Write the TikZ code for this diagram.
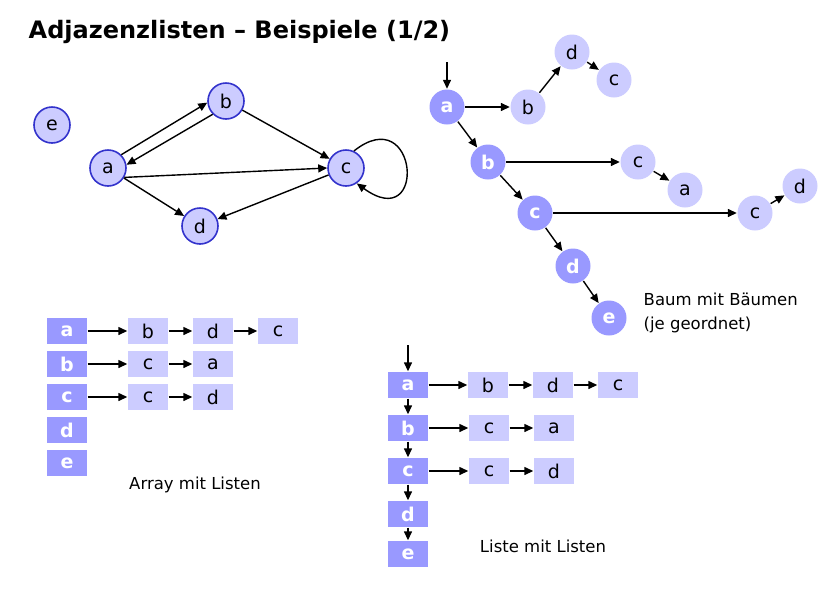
\documentclass[tikz,border=0pt]{standalone}
\usepackage{fontspec}
\setmainfont{DejaVu Sans}
\usepackage{xcolor}
\usetikzlibrary{arrows.meta, positioning}

\definecolor{lila}{HTML}{9999FF}
\definecolor{hell}{HTML}{CCCCFF}
\definecolor{rand}{HTML}{3333CC}

\begin{document}
\begin{tikzpicture}[x=1pt, y=-1pt, >={Triangle[length=9pt, width=8pt]}, line width=1.4pt,
    knoten/.style={circle, draw=rand, line width=1.6pt, fill=hell, minimum size=36pt, inner sep=0pt, font=\fontsize{19}{22}\selectfont},
    baum/.style={circle, fill=lila, text=white, minimum size=35pt, inner sep=0pt, font=\bfseries\fontsize{19}{22}\selectfont},
    ast/.style={circle, fill=hell, minimum size=35pt, inner sep=0pt, font=\fontsize{19}{22}\selectfont},
    feld/.style={rectangle, fill=lila, text=white, minimum width=40pt, minimum height=26pt, inner sep=0pt, font=\bfseries\fontsize{19}{22}\selectfont},
    glied/.style={rectangle, fill=hell, minimum width=40pt, minimum height=26pt, inner sep=0pt, font=\fontsize{19}{22}\selectfont},
    beschr/.style={font=\fontsize{16.5}{19}\selectfont}]
    \useasboundingbox (0,0) rectangle (830,595);

    % Titel
    \node[anchor=base west, inner sep=0pt, font=\bfseries\fontsize{24}{28}\selectfont] (titel) at (28,38) {Adjazenzlisten – Beispiele (1/2)};

    % Graph
    \node[knoten] (e) at (52,125) {e};
    \node[knoten] (a) at (108,168) {a};
    \node[knoten] (b) at (226,101) {b};
    \node[knoten] (c) at (346,168) {c};
    \node[knoten] (d) at (200,226) {d};
    \draw[->] (a.45) -- (b.185);
    \draw[->] (b.225) -- (a.10);
    \draw[->] (b) -- (c);
    \draw[->] (a.-30) -- (c.180);
    \draw[->] (a) -- (d);
    \draw[->] (c) -- (d);
    \draw[->] (c.65) .. controls (418,100) and (428,235) .. (c.-55);

    % Baum mit Baeumen
    \node[baum] (ta) at (447,107) {a};
    \node[ast] (tab) at (528,107) {b};
    \node[ast] (tabd) at (572,52) {d};
    \node[ast] (tabdc) at (614,80) {c};
    \node[baum] (tb) at (488,162) {b};
    \node[ast] (tbc) at (638,162) {c};
    \node[ast] (tbca) at (685,190) {a};
    \node[baum] (tc) at (535,213) {c};
    \node[ast] (tcc) at (755,213) {c};
    \node[ast] (tccd) at (800,186) {d};
    \node[baum] (td) at (573,266) {d};
    \node[baum] (te) at (609,318) {e};
    \coordinate (tstart) at (447,62);
    \draw[->] (tstart) -- (ta);
    \draw[->] (ta) -- (tab);
    \draw[->] (tab) -- (tabd);
    \draw[->] (tabd) -- (tabdc);
    \draw[->] (ta) -- (tb);
    \draw[->] (tb) -- (tbc);
    \draw[->] (tbc) -- (tbca);
    \draw[->] (tb) -- (tc);
    \draw[->] (tc) -- (tcc);
    \draw[->] (tcc) -- (tccd);
    \draw[->] (tc) -- (td);
    \draw[->] (td) -- (te);
    \node[beschr, anchor=base west, inner sep=0pt] (baumtext) at (643,305) {Baum mit Bäumen};
    \node[beschr, anchor=base west, inner sep=0pt] (baumtext2) at (643,329) {(je geordnet)};

    % Array mit Listen
    \foreach \n/\y in {a/331, b/364, c/397, d/430, e/463} {
        \node[feld] (f\n) at (67,\y) {\n};
    }
    \node[glied] (fab) at (148,331) {b};
    \node[glied] (fad) at (213,331) {d};
    \node[glied] (fac) at (278,331) {c};
    \node[glied] (fbc) at (148,364) {c};
    \node[glied] (fba) at (213,364) {a};
    \node[glied] (fcc) at (148,397) {c};
    \node[glied] (fcd) at (213,397) {d};
    \draw[->] (fa) -- (fab);
    \draw[->] (fab) -- (fad);
    \draw[->] (fad) -- (fac);
    \draw[->] (fb) -- (fbc);
    \draw[->] (fbc) -- (fba);
    \draw[->] (fc) -- (fcc);
    \draw[->] (fcc) -- (fcd);
    \node[beschr] (arraytext) at (195,485) {Array mit Listen};

    % Liste mit Listen
    \foreach \n/\y in {a/385, b/428, c/471, d/514, e/554} {
        \node[feld] (l\n) at (408,\y) {\n};
    }
    \coordinate (lstart) at (408,345);
    \draw[->] (lstart) -- (la);
    \draw[->] (la) -- (lb);
    \draw[->] (lb) -- (lc);
    \draw[->] (lc) -- (ld);
    \draw[->] (ld) -- (le);
    \node[glied] (lab) at (488,385) {b};
    \node[glied] (lad) at (553,385) {d};
    \node[glied] (lac) at (618,385) {c};
    \node[glied] (lbc) at (489,428) {c};
    \node[glied] (lba) at (554,428) {a};
    \node[glied] (lcc) at (489,471) {c};
    \node[glied] (lcd) at (554,471) {d};
    \draw[->] (la) -- (lab);
    \draw[->] (lab) -- (lad);
    \draw[->] (lad) -- (lac);
    \draw[->] (lb) -- (lbc);
    \draw[->] (lbc) -- (lba);
    \draw[->] (lc) -- (lcc);
    \draw[->] (lcc) -- (lcd);
    \node[beschr] (listetext) at (543,546) {Liste mit Listen};
\end{tikzpicture}
\end{document}
